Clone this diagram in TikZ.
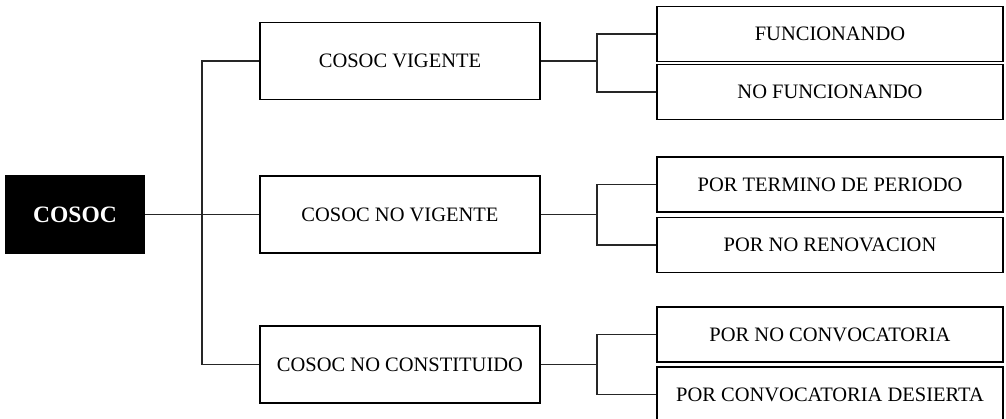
\documentclass[tikz,border=0pt]{standalone}
\usepackage{fontspec}
\setmainfont{Liberation Serif}

\begin{document}
\begin{tikzpicture}[
        x=1pt, y=1pt,
        every node/.style={draw=black, line width=1.1pt, inner sep=0pt, align=center,
            font=\fontsize{20.5}{24}\selectfont},
        rootbox/.style={fill=black, text=white, minimum width=138pt, minimum height=77pt,
            font=\fontsize{23.5}{28}\selectfont\bfseries},
        midbox/.style={fill=white, minimum width=280pt, minimum height=77pt},
        leafbox/.style={fill=white, minimum width=346pt, minimum height=55pt},
        link/.style={draw=black!85, line width=1.1pt}
    ]
    \useasboundingbox (0,0) rectangle (1006,418);

    % root and first level
    \node[rootbox] (root) at (75,203.5) {COSOC};
    \node[midbox] (vig) at (400,357) {COSOC VIGENTE};
    \node[midbox] (novig) at (400,203.5) {COSOC NO VIGENTE};
    \node[midbox] (nocons) at (400,53.5) {COSOC NO CONSTITUIDO};

    % second level
    \node[leafbox] (func) at (830,384) {FUNCIONANDO};
    \node[leafbox] (nofunc) at (830,326) {NO FUNCIONANDO};
    \node[leafbox] (termino) at (830,233.5) {POR TERMINO DE PERIODO};
    \node[leafbox] (norenov) at (830,173) {POR NO RENOVACION};
    \node[leafbox] (noconv) at (830,83.5) {POR NO CONVOCATORIA};
    \node[leafbox] (desierta) at (830,23.5) {POR CONVOCATORIA DESIERTA};

    % junctions
    \coordinate (trunk) at (202,203.5);
    \coordinate (forkA) at (597,357);
    \coordinate (forkB) at (597,203.5);
    \coordinate (forkC) at (597,53.5);

    \path[link] (root) -- (novig);
    \path[link] (vig.west) -| (trunk) |- (nocons.west);

    \path[link] (vig) -- (forkA);
    \path[link] (func.west) -| (forkA) |- (nofunc.west);
    \path[link] (novig) -- (forkB);
    \path[link] (termino.west) -| (forkB) |- (norenov.west);
    \path[link] (nocons) -- (forkC);
    \path[link] (noconv.west) -| (forkC) |- (desierta.west);
\end{tikzpicture}
\end{document}
